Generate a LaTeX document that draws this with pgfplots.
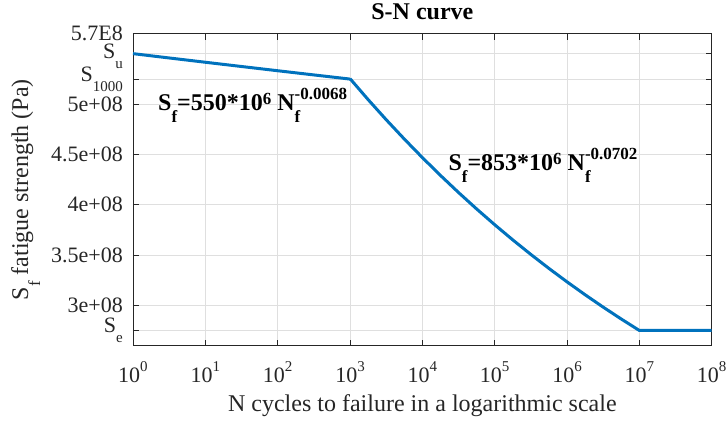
\documentclass[border=0pt]{standalone}
\usepackage{fontspec}
\setmainfont{Liberation Serif}
\usepackage{pgfplots}
\pgfplotsset{compat=1.18}
\definecolor{mblue}{RGB}{0,114,189}
\definecolor{axc}{RGB}{38,38,38}
\definecolor{gridc}{RGB}{223,223,223}
\newcommand\tk{\fontsize{22bp}{26bp}\selectfont}
\newcommand\lb{\fontsize{24bp}{28bp}\selectfont}
\newcommand\sm{\fontsize{15bp}{15bp}\selectfont}
\newcommand\an{\fontsize{17bp}{17bp}\selectfont}
\newcommand\ysub[1]{\raisebox{-10bp}{\sm #1}}
\newcommand\xsup[1]{10\raisebox{11bp}{\sm #1}}
\begin{document}
\begin{tikzpicture}
\useasboundingbox (-133bp,-75.3bp) rectangle (594bp,345.7bp);
\begin{axis}[
  at={(0,0)}, anchor=south west,
  scale only axis, width=578.7bp, height=312.2bp,
  xmode=log, xmin=1, xmax=1e8, ymin=2.6e8, ymax=5.7e8,
  scaled y ticks=false,
  xtick={1,10,100,1000,10000,100000,1000000,10000000,100000000},
  xticklabels={\xsup{0},\xsup{1},\xsup{2},\xsup{3},\xsup{4},\xsup{5},\xsup{6},\xsup{7},\xsup{8}},
  ytick={275.12e6,3e8,3.5e8,4e8,4.5e8,5e8,524.75e6,550e6,5.7e8},
  yticklabels={S\ysub{e},3e+08,3.5e+08,4e+08,4.5e+08,5e+08,S\ysub{1000},S\ysub{u}\rule{0pt}{19bp},5.7E8},
  minor tick length=0pt,
  tick align=inside, major tick length=6bp,
  tick style={axc, line width=0.8bp},
  axis line style={axc, line width=0.8bp},
  grid=major, major grid style={gridc, line width=0.8bp},
  ticklabel style={font=\tk, text=axc},
  yticklabel style={anchor=east, inner sep=0pt, xshift=-10bp},
  xticklabel style={anchor=base, inner sep=0pt, yshift=-37bp},
  xlabel={N cycles to failure in a logarithmic scale},
  xlabel style={at={(axis description cs:0.5,-0.2114)}, anchor=base, font=\lb, text=axc, inner sep=0pt},
  ylabel={S\raisebox{-12bp}{\an f} fatigue strength (Pa)},
  ylabel style={at={(axis description cs:-0.1814,0.5)}, anchor=base, font=\lb, text=axc, inner sep=0pt},
  title={S-N curve},
  title style={at={(axis description cs:0.5,1.0272)}, anchor=base, font=\lb\bfseries, inner sep=0pt},
]
\addplot[mblue, line width=3bp, no markers] table {
x y
1 550.00e6
3.16228 545.71e6
10 541.45e6
31.6228 537.23e6
100 533.03e6
316.228 528.87e6
1000 524.75e6
};
\addplot[mblue, line width=3bp, no markers] table {
x y
1000 525.20e6
1778.28 504.40e6
3162.28 484.42e6
5623.41 465.24e6
10000 446.81e6
17782.8 429.11e6
31622.8 412.12e6
56234.1 395.80e6
100000 380.12e6
177828 365.07e6
316228 350.61e6
562341 336.72e6
1000000 323.39e6
1778280 310.58e6
3162280 298.28e6
5623410 286.47e6
10000000 275.12e6
100000000 275.12e6
};
\node[anchor=base west, inner sep=0pt, font=\lb\bfseries] at (axis cs:2.215,4.9305e8)
  {S\raisebox{-12bp}{\an f}=550*10\raisebox{6bp}{\an 6} N\rlap{\raisebox{-12bp}{\an f}}\raisebox{11bp}{\an -0.0068}};
\node[anchor=base west, inner sep=0pt, font=\lb\bfseries] at (axis cs:22856,4.3347e8)
  {S\raisebox{-12bp}{\an f}=853*10\raisebox{6bp}{\an 6} N\rlap{\raisebox{-12bp}{\an f}}\raisebox{11bp}{\an -0.0702}};
\end{axis}
\end{tikzpicture}
\end{document}
